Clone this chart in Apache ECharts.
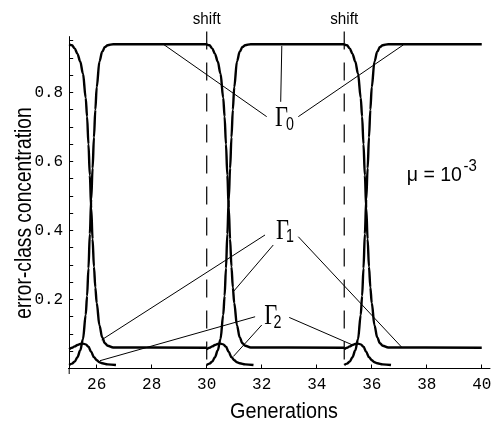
<!DOCTYPE html>
<html>
<head>
<meta charset="utf-8">
<script src="https://cdn.jsdelivr.net/npm/echarts@6/dist/echarts.min.js"></script>
<style>
  html, body { margin: 0; padding: 0; background: #fff; }
  #chart { width: 491px; height: 424px; }
</style>
</head>
<body>
<div id="chart"></div>
<script>
// 代际偏移：横轴以第 25 代为原点
const X0 = 25;

// 环境突变时刻与结束代
const shiftTimes = [25, 30, 35];
const lastGeneration = 40;
const shiftMarks = [30, 35];

// 每次突变后的时间偏移（代）
const tOffsets = [0, 0.1, 0.2, 0.3, 0.4, 0.5, 0.6, 0.65, 0.7, 0.75, 0.8, 0.85, 0.9, 0.95, 1.0, 1.1, 1.2, 1.3, 1.4, 1.6];
// Γ0 上升、Γ1 下降
const gamma0Rise = [0.01, 0.014, 0.02, 0.033, 0.052, 0.085, 0.155, 0.21, 0.29, 0.39, 0.49, 0.58, 0.67, 0.75, 0.815, 0.89, 0.918, 0.932, 0.937, 0.94];
const gamma1Fall = [0.94, 0.937, 0.928, 0.912, 0.89, 0.855, 0.785, 0.73, 0.65, 0.56, 0.465, 0.375, 0.295, 0.235, 0.19, 0.125, 0.09, 0.073, 0.066, 0.061];
const gamma0Plateau = 0.94;
const gamma1Plateau = 0.06;

// Γ2 的短暂峰
const gamma2Offsets = [0, 0.1, 0.2, 0.3, 0.4, 0.5, 0.6, 0.7, 0.8, 0.9, 1.0, 1.1, 1.2, 1.4, 1.7];
const gamma2Bump = [0.056, 0.06, 0.064, 0.068, 0.071, 0.072, 0.07, 0.063, 0.048, 0.033, 0.024, 0.018, 0.015, 0.012, 0.01];

// 刻度
const generationTicks = [26, 28, 30, 32, 34, 36, 38, 40];
const concTicks = [0.2, 0.4, 0.6, 0.8];
const concMinorTicks = [0.05, 0.1, 0.15, 0.2, 0.25, 0.3, 0.35, 0.4, 0.45, 0.5, 0.55, 0.6, 0.65, 0.7, 0.75, 0.8, 0.85, 0.9, 0.95];

// 标注引线 [x1, y1, x2, y2]（代, 浓度）
const leaderLines = [
    [28.42, 0.94, 32.18, 0.73],
    [32.73, 0.935, 32.69, 0.773],
    [33.33, 0.73, 37.15, 0.938],
    [26.18, 0.083, 32.12, 0.387],
    [30.97, 0.223, 32.42, 0.358],
    [33.33, 0.382, 37.11, 0.06],
    [26.12, 0.0226, 31.76, 0.15],
    [30.97, 0.035, 32.0, 0.126],
    [33.0, 0.148, 35.31, 0.068]
];

/**
 * 拼接每个周期的过渡段 + 平台段，周期之间断开
 */
function buildPeriodic(values, plateau) {
    const pts = [];
    shiftTimes.forEach((s, i) => {
        const next = i + 1 < shiftTimes.length ? shiftTimes[i + 1] : lastGeneration;
        tOffsets.forEach((t, j) => pts.push([s + t - X0, values[j]]));
        pts.push([next - X0, plateau]);
        pts.push([next - X0, '-']);
    });
    return pts;
}

function buildBumps() {
    const pts = [];
    shiftTimes.forEach(s => {
        gamma2Offsets.forEach((t, j) => pts.push([s + t - X0, gamma2Bump[j]]));
        pts.push([s + 2 - X0, '-']);
    });
    return pts;
}

const curveBase = {
    type: 'line',
    showSymbol: false,
    symbol: 'none',
    smooth: 0.35,
    smoothMonotone: 'x',
    connectNulls: false,
    silent: true,
    lineStyle: { color: '#000', width: 2.4 }
};

const series = [
    Object.assign({ name: 'Γ0', data: buildPeriodic(gamma0Rise, gamma0Plateau) }, curveBase),
    Object.assign({ name: 'Γ1', data: buildPeriodic(gamma1Fall, gamma1Plateau) }, curveBase),
    Object.assign({ name: 'Γ2', data: buildBumps() }, curveBase)
];

// 坐标轴交叉处的短出头（Mathematica 风格）
const axisStub = { type: 'line', showSymbol: false, symbol: 'none', clip: false, silent: true, z: 1,
    lineStyle: { color: '#000', width: 1 } };
series.push(Object.assign({ data: [[-0.4, 0], [0, 0]] }, axisStub));
series.push(Object.assign({ data: [[0, 0], [0, -0.016]] }, axisStub));

// 突变虚线
shiftMarks.forEach(g => {
    series.push({
        type: 'line',
        data: [[g - X0, 0.977], [g - X0, 0]],
        showSymbol: false,
        symbol: 'none',
        clip: false,
        silent: true,
        lineStyle: { color: '#000', width: 1.2, type: [18, 13] }
    });
});

// 引线
series.push({
    type: 'line',
    data: [],
    silent: true,
    markLine: {
        silent: true,
        symbol: ['none', 'none'],
        label: { show: false },
        animation: false,
        lineStyle: { color: '#000', width: 1, type: 'solid' },
        emphasis: { disabled: true },
        data: leaderLines.map(l => [
            { coord: [l[0] - X0, l[1]] },
            { coord: [l[2] - X0, l[3]] }
        ])
    }
});

const sans = '"Liberation Sans", Arial, sans-serif';
const serif = '"Liberation Serif", "Times New Roman", serif';

function txt(text, x, y, size, opts) {
    opts = opts || {};
    return {
        type: 'text',
        x: x,
        y: y,
        rotation: opts.rotation || 0,
        scaleX: opts.scaleX || 1,
        silent: true,
        style: {
            text: text,
            fill: '#000',
            font: size + 'px ' + (opts.family || sans),
            textAlign: opts.align || 'center',
            textVerticalAlign: 'middle'
        }
    };
}

const graphics = [
    txt('error-class concentration', 24, 213, 24, { rotation: Math.PI / 2, scaleX: 0.8 }),
    txt('Generations', 284, 412, 22, { scaleX: 0.9 }),
    txt('shift', 206.7, 19.6, 16, { scaleX: 0.95 }),
    txt('shift', 344.2, 19.6, 16, { scaleX: 0.95 }),
    txt('Γ', 281.5, 117.8, 30, { family: serif, scaleX: 0.75 }),
    txt('0', 290, 125, 19, { scaleX: 0.75 }),
    txt('Γ', 282.5, 230.8, 30, { family: serif, scaleX: 0.75 }),
    txt('1', 290, 237, 19, { scaleX: 0.75 }),
    txt('Γ', 270.8, 316.5, 30, { family: serif, scaleX: 0.75 }),
    txt('2', 277.5, 323, 19, { scaleX: 0.75 }),
    txt('μ = 10', 406.7, 175.7, 21, { align: 'left', scaleX: 0.93 }),
    txt('-3', 463.5, 166.5, 17, { align: 'left', scaleX: 0.88 })
];

const mono = '"Liberation Mono", "DejaVu Sans Mono", monospace';

const option = {
    animation: false,
    backgroundColor: '#fff',
    grid: {
        left: 69.2,
        top: 36.6,
        right: 491 - 490,
        bottom: 424 - 368.5,
        containLabel: false,
        outerBoundsMode: 'none'
    },
    xAxis: {
        type: 'value',
        min: 0,
        max: 15.3,
        axisLine: { onZero: false, lineStyle: { color: '#000', width: 1 } },
        axisTick: {
            inside: true,
            length: 4,
            customValues: generationTicks.map(g => g - X0),
            lineStyle: { color: '#000' }
        },
        axisLabel: {
            customValues: generationTicks.map(g => g - X0),
            formatter: v => String(Math.round(v + X0)),
            fontFamily: mono,
            fontSize: 16,
            color: '#000',
            margin: 8
        },
        splitLine: { show: false }
    },
    yAxis: {
        type: 'value',
        min: 0,
        max: 0.962,
        axisLine: { onZero: false, lineStyle: { color: '#000', width: 1 } },
        axisTick: {
            inside: true,
            length: 4,
            customValues: concMinorTicks,
            lineStyle: { color: '#000' }
        },
        axisLabel: {
            customValues: concTicks,
            formatter: v => v.toFixed(1),
            fontFamily: mono,
            fontSize: 16,
            color: '#000',
            margin: 6
        },
        splitLine: { show: false }
    },
    series: series,
    graphic: graphics
};

const chart = echarts.init(document.getElementById('chart'));
chart.setOption(option);
</script>
</body>
</html>
